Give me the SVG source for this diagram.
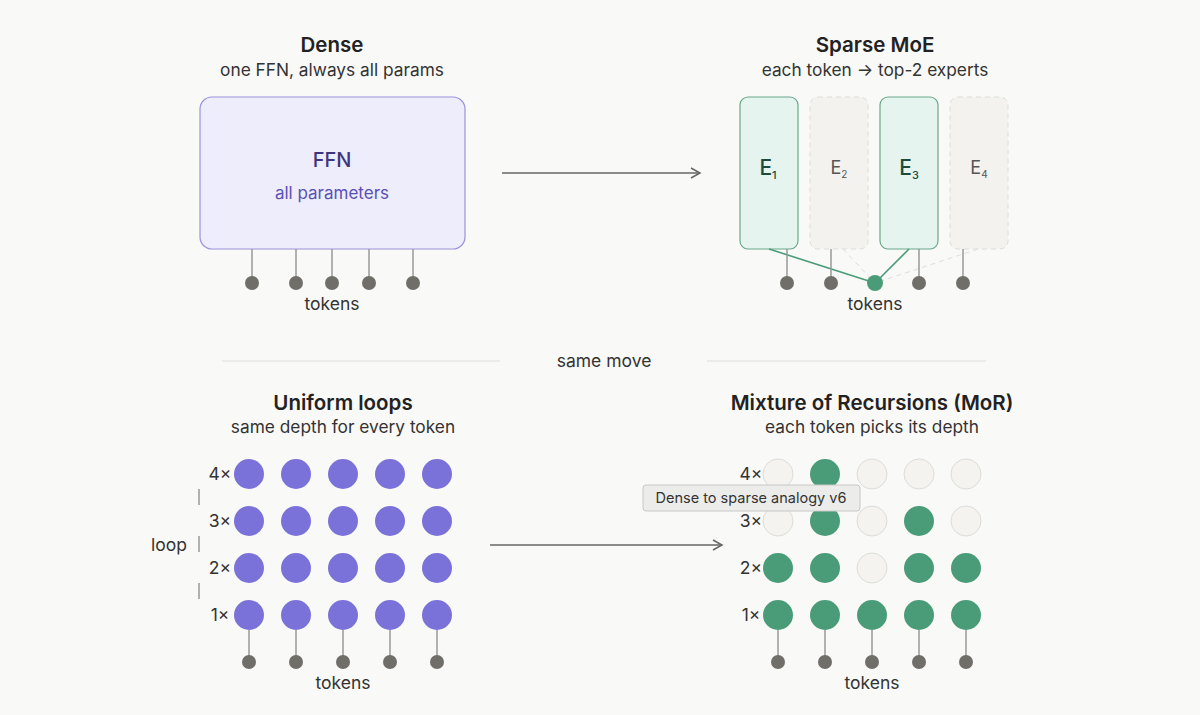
<svg xmlns="http://www.w3.org/2000/svg" width="1200" height="715" viewBox="0 0 1200 715">
<style>
text{font-family:Inter,"Noto Sans",sans-serif;fill:#222;text-anchor:middle}
.t{font-size:20.5px;font-weight:600}
.s{font-size:17.3px;fill:#333}
.lab{font-size:17.5px;fill:#333}
.tok{fill:#6f6e69}
.stem{stroke:#999;stroke-width:1.5}
.p{fill:#7b72d9}
.g{fill:#4a9c78}
.e{fill:#f4f3ef;stroke:#dcdcd8;stroke-width:1}
</style>
<defs><marker id="ah" markerWidth="12" markerHeight="12" refX="10" refY="6" orient="auto" markerUnits="userSpaceOnUse"><path d="M1,1 L10,6 L1,11" fill="none" stroke="#666" stroke-width="1.5"/></marker></defs>
<rect width="1200" height="715" fill="#f9f9f7"/>
<g id="connectors">
<line x1="502" y1="173" x2="700" y2="173" stroke="#666" stroke-width="1.5" marker-end="url(#ah)"/>
<line x1="490" y1="545" x2="722" y2="545" stroke="#666" stroke-width="1.5" marker-end="url(#ah)"/>
<line x1="222" y1="361" x2="500" y2="361" stroke="#ddd" stroke-width="1"/>
<line x1="707" y1="361" x2="986" y2="361" stroke="#ddd" stroke-width="1"/>
</g>
<g id="dense">
<text class="t" x="332" y="52">Dense</text>
<text class="s" x="332" y="76">one FFN, always all params</text>
<rect x="200" y="97" width="265" height="152" rx="12" fill="#eeedfb" stroke="#9a92dc" stroke-width="1.2"/>
<text x="332" y="167" style="font-size:20px;font-weight:500;fill:#3d357f">FFN</text>
<text x="332" y="199" style="font-size:17px;fill:#5a50b8">all parameters</text>
<g class="stem"><line x1="252" y1="249" x2="252" y2="283"/><line x1="296" y1="249" x2="296" y2="283"/><line x1="332" y1="249" x2="332" y2="283"/><line x1="369" y1="249" x2="369" y2="283"/><line x1="413" y1="249" x2="413" y2="283"/></g>
<g class="tok"><circle cx="252" cy="283" r="7"/><circle cx="296" cy="283" r="7"/><circle cx="332" cy="283" r="7"/><circle cx="369" cy="283" r="7"/><circle cx="413" cy="283" r="7"/></g>
<text class="lab" x="332" y="310">tokens</text>
</g>
<g id="moe">
<text class="t" x="875" y="52">Sparse MoE</text>
<text class="s" x="875" y="76">each token → top-2 experts</text>
<rect x="740" y="97" width="58" height="152" rx="8" fill="#e5f4ee" stroke="#6aa88b" stroke-width="1.2"/>
<rect x="810" y="97" width="58" height="152" rx="8" fill="#f3f2ee" stroke="#dcdcd8" stroke-dasharray="5 4"/>
<rect x="880" y="97" width="58" height="152" rx="8" fill="#e5f4ee" stroke="#6aa88b" stroke-width="1.2"/>
<rect x="950" y="97" width="58" height="152" rx="8" fill="#f3f2ee" stroke="#dcdcd8" stroke-dasharray="5 4"/>
<text x="768" y="175" style="font-size:21px;font-weight:500;fill:#1f4a3a">E<tspan font-size="11" dy="4">1</tspan></text>
<text x="839" y="174" style="font-size:18px;fill:#555">E<tspan font-size="10" dy="4">2</tspan></text>
<text x="909" y="175" style="font-size:21px;font-weight:500;fill:#1f4a3a">E<tspan font-size="11" dy="4">3</tspan></text>
<text x="979" y="174" style="font-size:18px;fill:#555">E<tspan font-size="10" dy="4">4</tspan></text>
<g stroke="#ddd" stroke-dasharray="5 4"><line x1="843" y1="249" x2="875" y2="283"/><line x1="978" y1="249" x2="875" y2="283"/></g>
<g stroke="#4a9c78" stroke-width="1.6"><line x1="769" y1="249" x2="875" y2="283"/><line x1="909" y1="249" x2="875" y2="283"/></g>
<g class="stem"><line x1="787" y1="249" x2="787" y2="283"/><line x1="831" y1="249" x2="831" y2="283"/><line x1="919" y1="249" x2="919" y2="283"/><line x1="963" y1="249" x2="963" y2="283"/></g>
<g class="tok"><circle cx="787" cy="283" r="7"/><circle cx="831" cy="283" r="7"/><circle cx="919" cy="283" r="7"/><circle cx="963" cy="283" r="7"/></g>
<circle cx="875" cy="283" r="8" class="g"/>
<text class="lab" x="875" y="310">tokens</text>
</g>
<text class="lab" x="604" y="367">same move</text>
<g id="uniform">
<text class="t" x="343" y="410">Uniform loops</text>
<text class="s" x="343" y="433">same depth for every token</text>
<text class="lab" x="220" y="480" text-anchor="end">4×</text><text class="lab" x="220" y="527" text-anchor="end">3×</text><text class="lab" x="220" y="574" text-anchor="end">2×</text><text class="lab" x="220" y="621" text-anchor="end">1×</text>
<text class="lab" x="169" y="551">loop</text>
<g stroke="#999" stroke-width="1.5"><line x1="199" y1="489" x2="199" y2="505"/><line x1="199" y1="536" x2="199" y2="552"/><line x1="199" y1="583" x2="199" y2="599"/></g>
<g class="p">
<circle cx="249" cy="474" r="15"/><circle cx="296" cy="474" r="15"/><circle cx="343" cy="474" r="15"/><circle cx="390" cy="474" r="15"/><circle cx="437" cy="474" r="15"/>
<circle cx="249" cy="521" r="15"/><circle cx="296" cy="521" r="15"/><circle cx="343" cy="521" r="15"/><circle cx="390" cy="521" r="15"/><circle cx="437" cy="521" r="15"/>
<circle cx="249" cy="568" r="15"/><circle cx="296" cy="568" r="15"/><circle cx="343" cy="568" r="15"/><circle cx="390" cy="568" r="15"/><circle cx="437" cy="568" r="15"/>
<circle cx="249" cy="615" r="15"/><circle cx="296" cy="615" r="15"/><circle cx="343" cy="615" r="15"/><circle cx="390" cy="615" r="15"/><circle cx="437" cy="615" r="15"/>
</g>
<g class="stem"><line x1="249" y1="630" x2="249" y2="662"/><line x1="296" y1="630" x2="296" y2="662"/><line x1="343" y1="630" x2="343" y2="662"/><line x1="390" y1="630" x2="390" y2="662"/><line x1="437" y1="630" x2="437" y2="662"/></g>
<g class="tok"><circle cx="249" cy="662" r="7"/><circle cx="296" cy="662" r="7"/><circle cx="343" cy="662" r="7"/><circle cx="390" cy="662" r="7"/><circle cx="437" cy="662" r="7"/></g>
<text class="lab" x="343" y="689">tokens</text>
</g>
<g id="mor">
<text class="t" x="872" y="410">Mixture of Recursions (MoR)</text>
<text class="s" x="872" y="433">each token picks its depth</text>
<text class="lab" x="751" y="480" text-anchor="end">4×</text><text class="lab" x="751" y="527" text-anchor="end">3×</text><text class="lab" x="751" y="574" text-anchor="end">2×</text><text class="lab" x="751" y="621" text-anchor="end">1×</text>
<circle cx="778" cy="474" r="15" class="e"/><circle cx="825" cy="474" r="15" class="g"/><circle cx="872" cy="474" r="15" class="e"/><circle cx="919" cy="474" r="15" class="e"/><circle cx="966" cy="474" r="15" class="e"/>
<circle cx="778" cy="521" r="15" class="e"/><circle cx="825" cy="521" r="15" class="g"/><circle cx="872" cy="521" r="15" class="e"/><circle cx="919" cy="521" r="15" class="g"/><circle cx="966" cy="521" r="15" class="e"/>
<circle cx="778" cy="568" r="15" class="g"/><circle cx="825" cy="568" r="15" class="g"/><circle cx="872" cy="568" r="15" class="e"/><circle cx="919" cy="568" r="15" class="g"/><circle cx="966" cy="568" r="15" class="g"/>
<circle cx="778" cy="615" r="15" class="g"/><circle cx="825" cy="615" r="15" class="g"/><circle cx="872" cy="615" r="15" class="g"/><circle cx="919" cy="615" r="15" class="g"/><circle cx="966" cy="615" r="15" class="g"/>
<g class="stem"><line x1="778" y1="630" x2="778" y2="662"/><line x1="825" y1="630" x2="825" y2="662"/><line x1="872" y1="630" x2="872" y2="662"/><line x1="919" y1="630" x2="919" y2="662"/><line x1="966" y1="630" x2="966" y2="662"/></g>
<g class="tok"><circle cx="778" cy="662" r="7"/><circle cx="825" cy="662" r="7"/><circle cx="872" cy="662" r="7"/><circle cx="919" cy="662" r="7"/><circle cx="966" cy="662" r="7"/></g>
<text class="lab" x="872" y="689">tokens</text>
</g>
<g id="tooltip">
<rect x="643" y="485" width="217" height="26" rx="3" fill="#ececea" stroke="#c8c8c6"/>
<text x="751" y="503" style="font-size:14.5px;fill:#333">Dense to sparse analogy v6</text>
</g>
</svg>
